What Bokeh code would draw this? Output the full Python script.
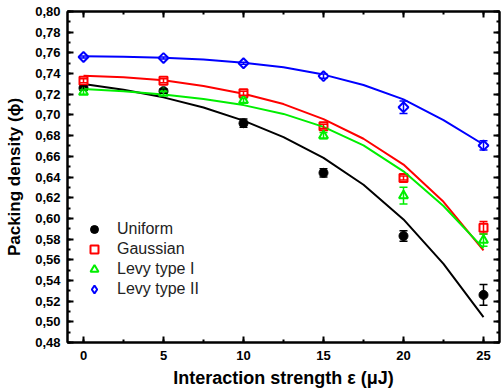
import math
from bokeh.plotting import figure
from bokeh.models import (ColumnDataSource, Whisker, TeeHead, LinearAxis, SingleIntervalTicker,
                          CustomJSTickFormatter, Range1d, Legend, LegendItem)
from bokeh.embed import file_html
from bokeh.resources import INLINE

# ---- data ----
x_pts = [0, 5, 10, 15, 20, 25]
uniform = [0.726, 0.723, 0.692, 0.644, 0.583, 0.526]
uniform_err = [0.002, 0.002, 0.004, 0.004, 0.005, 0.010]
gaussian = [0.733, 0.733, 0.721, 0.689, 0.639, 0.591]
gaussian_err = [0.002, 0.002, 0.002, 0.002, 0.002, 0.006]
levy1 = [0.722, 0.721, 0.714, 0.680, 0.622, 0.579]
levy1_err = [0.002, 0.002, 0.002, 0.003, 0.008, 0.006]
levy2 = [0.756, 0.755, 0.750, 0.7375, 0.7075, 0.6705]
levy2_err = [0.001, 0.001, 0.001, 0.002, 0.006, 0.0045]

x_fit = [0, 2.5, 5, 7.5, 10, 12.5, 15, 17.5, 20, 22.5, 25]
uniform_fit = [0.730, 0.7243, 0.7170, 0.7072, 0.6945, 0.6786, 0.6585, 0.6325, 0.5990, 0.5560, 0.5045]
gaussian_fit = [0.738, 0.7365, 0.7335, 0.728, 0.7205, 0.7105, 0.696, 0.677, 0.652, 0.616, 0.569]
levy1_fit = [0.725, 0.7228, 0.7198, 0.7155, 0.7095, 0.701, 0.6885, 0.6705, 0.6455, 0.612, 0.571]
levy2_fit = [0.7568, 0.7563, 0.7552, 0.7535, 0.7505, 0.746, 0.739, 0.729, 0.715, 0.695, 0.6714]

names = ["Uniform", "Gaussian", "Levy type I", "Levy type II"]
colors = ["#000000", "#ff0000", "#00ee00", "#0000ff"]
markers = ["circle", "square", "triangle", "square"]
legend_markers = ["circle", "square", "triangle", "diamond"]
angles = [0, 0, 0, math.pi / 4]
sizes = [9, 8, 9, 7]
values = [uniform, gaussian, levy1, levy2]
errors = [uniform_err, gaussian_err, levy1_err, levy2_err]
fits = [uniform_fit, gaussian_fit, levy1_fit, levy2_fit]

FONT = "Liberation Sans"

p = figure(width=501, height=392, output_backend="svg", toolbar_location=None,
           x_range=Range1d(-1, 26), y_range=Range1d(0.48, 0.80),
           min_border_left=67, min_border_right=2, min_border_top=11, min_border_bottom=50)
p.background_fill_color = "white"
p.border_fill_color = "white"
p.outline_line_color = "black"
p.outline_line_width = 2
p.xgrid.visible = False
p.ygrid.visible = False

fmt = CustomJSTickFormatter(code="return tick.toFixed(2).replace('.', ',');")
blank = CustomJSTickFormatter(code="return '';")

def style_axis(ax, labels=True):
    ax.axis_line_width = 2
    ax.axis_line_color = "black"
    ax.major_tick_in = 6
    ax.major_tick_out = 0
    ax.minor_tick_in = 3
    ax.minor_tick_out = 0
    ax.major_tick_line_width = 2
    ax.minor_tick_line_width = 2
    ax.major_tick_line_color = "black"
    ax.minor_tick_line_color = "black"
    if labels:
        ax.major_label_text_font = FONT
        ax.major_label_text_font_style = "bold"
        ax.major_label_text_font_size = "13px"
        ax.major_label_text_color = "black"
        ax.axis_label_text_font = FONT
        ax.axis_label_text_font_style = "bold"
        ax.axis_label_text_font_size = "18px"
        ax.axis_label_text_color = "black"
    else:
        ax.formatter = blank
        ax.major_label_text_font_size = "1px"
        ax.major_label_text_color = None
        ax.major_label_standoff = 0

xa = p.xaxis[0]
xa.ticker = SingleIntervalTicker(interval=5, num_minor_ticks=2)
style_axis(xa)
xa.axis_label = "Interaction strength ε (μJ)"
xa.major_label_standoff = 8
xa.axis_label_standoff = 5

ya = p.yaxis[0]
ya.ticker = SingleIntervalTicker(interval=0.02, num_minor_ticks=2)
ya.formatter = fmt
style_axis(ya)
ya.axis_label = "Packing density (ϕ)"
ya.axis_label_text_font_size = "17px"
ya.major_label_standoff = 7
ya.axis_label_standoff = 8

top = LinearAxis(ticker=SingleIntervalTicker(interval=5, num_minor_ticks=2))
style_axis(top, labels=False)
p.add_layout(top, "above")
right = LinearAxis(ticker=SingleIntervalTicker(interval=0.02, num_minor_ticks=2))
style_axis(right, labels=False)
p.add_layout(right, "right")

items = []
for name, c, m, lm, a, s, v, e, f in zip(names, colors, markers, legend_markers, angles,
                                          sizes, values, errors, fits):
    p.line(x_fit, f, line_color=c, line_width=2)
    src = ColumnDataSource(dict(x=x_pts, y=v,
                                lo=[yv - ev for yv, ev in zip(v, e)],
                                hi=[yv + ev for yv, ev in zip(v, e)]))
    w = Whisker(source=src, base="x", upper="hi", lower="lo", dimension="height",
                line_color=c, line_width=1.5,
                upper_head=TeeHead(size=8, line_color=c, line_width=1.5),
                lower_head=TeeHead(size=8, line_color=c, line_width=1.5))
    w.level = "glyph"
    p.add_layout(w)
    if m == "circle":
        r = p.scatter("x", "y", source=src, marker=m, size=s, fill_color=c, line_color=c, line_width=1)
    else:
        r = p.scatter("x", "y", source=src, marker=m, size=s, angle=a, fill_color="white",
                      line_color=c, line_width=2)
    if lm != m:
        # legend-only glyph (true diamond outline), not drawn in the plot
        r = p.scatter("x", "y", source=src, marker=lm, size=s, fill_color="white",
                      line_color=c, line_width=2, visible=False)
    items.append(LegendItem(label=name, renderers=[r]))

legend = Legend(items=items, location=(15, 43))
legend.click_policy = "none"
legend.background_fill_alpha = 0
legend.border_line_alpha = 0
legend.padding = 0
legend.margin = 0
legend.spacing = 0
legend.glyph_height = 20
legend.glyph_width = 24
legend.label_height = 20
legend.label_standoff = 11
legend.label_text_font = FONT
legend.label_text_font_size = "16px"
legend.label_text_color = "#222222"
p.add_layout(legend)

open("out.html", "w").write(file_html(p, INLINE))
